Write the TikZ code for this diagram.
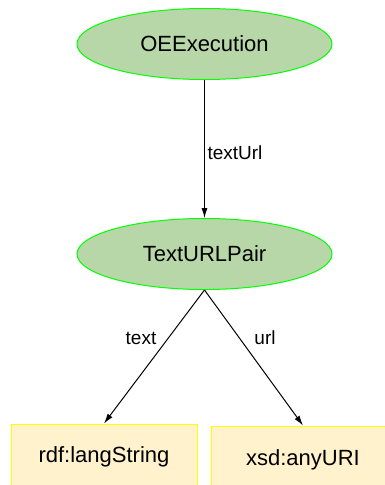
\documentclass[tikz,border=0pt]{standalone}
\usepackage{fontspec}
\setmainfont{Liberation Sans}
\usetikzlibrary{shapes.geometric,arrows.meta}
\tikzset{>={Latex[length=10pt,width=6pt]}}

\definecolor{classfill}{RGB}{183,215,168}
\definecolor{classline}{RGB}{0,255,0}
\definecolor{litfill}{RGB}{255,242,204}
\definecolor{litline}{RGB}{255,255,0}

\begin{document}
\begin{tikzpicture}[x=1pt,y=-1pt,
  cls/.style={ellipse,draw=classline,fill=classfill,line width=1pt,inner sep=0pt,
    minimum width=255pt,minimum height=71pt,font=\fontsize{22}{26}\selectfont},
  lit/.style={rectangle,draw=litline,fill=litfill,line width=1pt,inner sep=0pt,
    minimum height=66pt,font=\fontsize{22}{26}\selectfont},
  lbl/.style={font=\fontsize{19}{23}\selectfont,inner sep=1pt}]

\clip (0,0) rectangle (385,485);

%%% Classes
\node[cls] (oee) at (204.5,44) {OEExecution};
\node[cls] (pair) at (204.5,254) {TextURLPair};

%%% Literals
\node[lit,minimum width=186pt] (lang) at (104,457) {rdf:langString};
\node[lit,minimum width=184pt,minimum height=68pt] (uri) at (303,460) {xsd:anyURI};

%%% Properties
\draw [->,line width=1pt] (oee) -- (pair);
\node[lbl] (textUrl) at (235,153) {textUrl};

\draw [->,line width=1pt] (pair.south) -- (lang.north);
\node[lbl] (text) at (141,338) {text};

\draw [->,line width=1pt] (pair.south) -- (uri.north);
\node[lbl] (url) at (265,338) {url};

\end{tikzpicture}
\end{document}
